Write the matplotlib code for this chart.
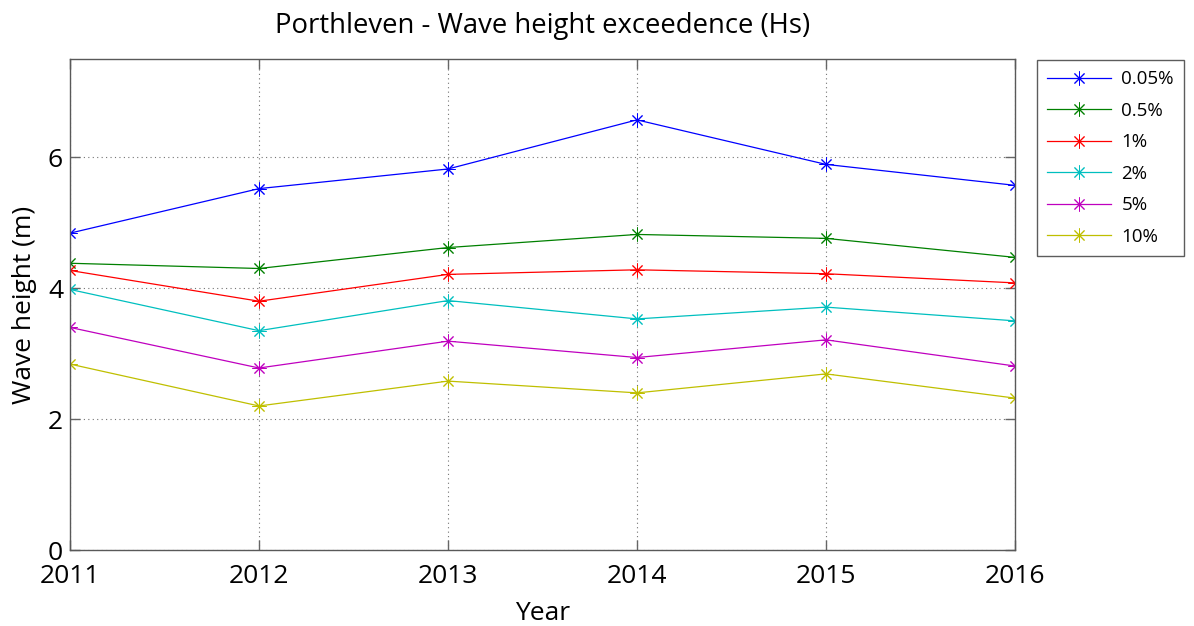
import matplotlib
matplotlib.use("Agg")
import matplotlib.pyplot as plt

years = [2011, 2012, 2013, 2014, 2015, 2016]
labels = ["0.05%", "0.5%", "1%", "2%", "5%", "10%"]
hs_005 = [4.84, 5.52, 5.82, 6.57, 5.89, 5.57]
hs_05 = [4.38, 4.30, 4.62, 4.82, 4.76, 4.47]
hs_1 = [4.27, 3.80, 4.21, 4.28, 4.22, 4.08]
hs_2 = [3.98, 3.35, 3.81, 3.53, 3.71, 3.50]
hs_5 = [3.40, 2.78, 3.19, 2.94, 3.21, 2.81]
hs_10 = [2.84, 2.20, 2.58, 2.40, 2.69, 2.32]
series = [hs_005, hs_05, hs_1, hs_2, hs_5, hs_10]
colors = [(0, 0, 1), (0, 0.5, 0), (1, 0, 0), (0, 0.75, 0.75), (0.75, 0, 0.75), (0.75, 0.75, 0)]

plt.rcParams['font.family'] = ['Open Sans', 'DejaVu Sans']

fig = plt.figure(figsize=(11.94, 6.26), dpi=100)
ax = fig.add_axes([70 / 1194, 1 - 550 / 626, (1015 - 70) / 1194, (550 - 59) / 626])

for vals, lab, col in zip(series, labels, colors):
    ax.plot(years, vals, color=col, lw=0.9, marker=(8, 2, 0), markersize=10,
            markeredgewidth=0.7, label=lab)

ax.set_xlim(2011, 2016)
ax.set_ylim(0, 7.5)
ax.set_xticks(years)
ax.set_yticks([0, 2, 4, 6])
ax.grid(True, linestyle=(0, (1, 3)), color='0.45', lw=0.8)
ax.tick_params(direction='in', length=7, width=1, color='0.4', labelsize=19,
               top=True, right=True)
ax.tick_params(axis='y', pad=5)
ax.tick_params(axis='x', pad=10)
for s in ax.spines.values():
    s.set_color('0.35')
    s.set_linewidth(1)

ax.set_title("Porthleven - Wave height exceedence (Hs)", fontsize=19.8, pad=19)
ax.set_xlabel("Year", fontsize=19, labelpad=9)
ax.set_ylabel("Wave height (m)", fontsize=19, labelpad=8)

leg = ax.legend(loc='upper left', bbox_to_anchor=(1037 / 1194, 1 - 60 / 626),
                bbox_transform=fig.transFigure, fontsize=13.5, frameon=True,
                fancybox=False, handlelength=3.4, handletextpad=0.55,
                labelspacing=0.72, borderpad=0.55, borderaxespad=0)
leg.get_frame().set_edgecolor('0.2')
leg.get_frame().set_linewidth(1)

fig.savefig("out.png", dpi=100)
